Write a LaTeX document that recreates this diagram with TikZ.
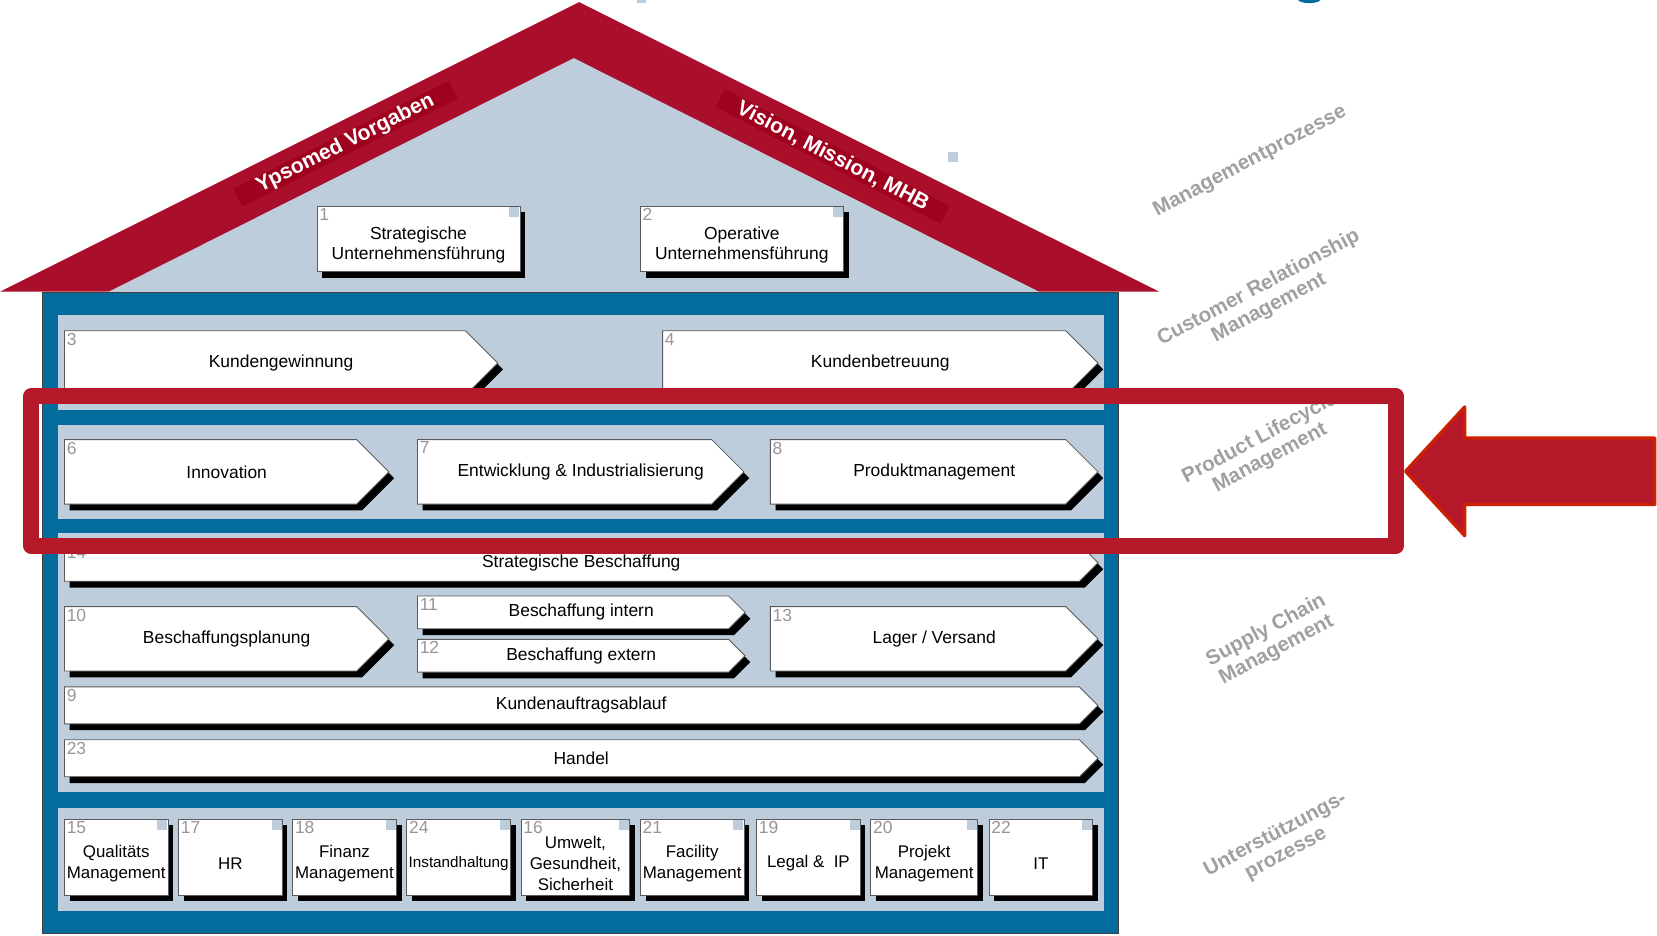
\documentclass[tikz,border=0pt]{standalone}
\usepackage{fontspec}
\setmainfont{Liberation Sans}
\definecolor{roofred}{RGB}{169,14,43}
\definecolor{bandred}{RGB}{158,2,30}
\definecolor{lightblue}{RGB}{189,205,219}
\definecolor{darkblue}{RGB}{4,108,157}
\definecolor{hired}{RGB}{181,25,41}
\definecolor{arrowedge}{RGB}{204,32,0}
\definecolor{sidegray}{RGB}{160,160,160}
\definecolor{numgray}{RGB}{150,150,150}
\definecolor{boxedge}{RGB}{90,90,90}
\tikzset{
  boxtext/.style={font=\fontsize{16.5}{19.5}\selectfont, text=black, align=center, inner sep=0},
  suptext/.style={font=\fontsize{16}{19.5}\selectfont, text=black, align=center, inner sep=0},
  smalltext/.style={font=\fontsize{14.4}{17}\selectfont, text=black, align=center, inner sep=0},
  numtext/.style={font=\fontsize{16.5}{17}\selectfont, text=numgray, inner sep=2, anchor=north west},
  rooftext/.style={font=\bfseries\fontsize{20}{21}\selectfont, text=white, fill=bandred, inner sep=0, minimum height=19},
  sidelabel/.style={font=\bfseries\fontsize{19.5}{21}\selectfont, text=sidegray, align=center, inner sep=0, rotate=28},
  shadowfill/.style={fill=black},
  boxfill/.style={fill=white, draw=boxedge, line width=0.8},
  cornersq/.style={fill=lightblue},
  panel/.style={fill=lightblue},
}
% name, x1, y1, xtip, y2, number, text
\newcommand\chevbox[7]{%
  \fill[shadowfill, shift={(5,6)}] (#2,#3) -- ({#4-(#5-#3)/2},#3) -- (#4,{(#3+#5)/2}) -- ({#4-(#5-#3)/2},#5) -- (#2,#5) -- cycle;
  \draw[boxfill] (#2,#3) -- ({#4-(#5-#3)/2},#3) -- (#4,{(#3+#5)/2}) -- ({#4-(#5-#3)/2},#5) -- (#2,#5) -- cycle;
  \node[numtext] (#1n) at (#2,#3) {#6};
  \node[boxtext] (#1) at ({(#2+#4)/2},{(#3+#5)/2}) {#7};
}
% name, x1, y1, x2, y2, number, text style, text
\newcommand\supbox[8]{%
  \fill[shadowfill, shift={(5,6)}] (#2,#3) rectangle (#4,#5);
  \draw[boxfill] (#2,#3) rectangle (#4,#5);
  \fill[cornersq] ({#4-10},{#3+0.5}) rectangle ({#4-0.5},{#3+10});
  \node[numtext] (#1n) at (#2,#3) {#6};
  \node[#7] (#1) at ({(#2+#4)/2},{(#3+#5)/2+6}) {#8};
}
\begin{document}
\begin{tikzpicture}[x=1pt,y=-1pt]
\useasboundingbox (0,0) rectangle (1568,885);
% cut fragments at top edge
\fill[lightblue] (603,-2) rectangle (611,2.5);
\fill[darkblue] (1239,-1) ellipse (11 and 4);
% roof
\fill[roofred] (0,276) -- (548,2) -- (1097,276) -- cycle;
\fill[lightblue] (101,277) -- (543,55) -- (985,277) -- cycle;
\node[rooftext, rotate=26.6, minimum width=228] (ypso) at (327,136) {Ypsomed Vorgaben};
\node[rooftext, rotate=-27.5, minimum width=240] (vision) at (788,148) {Vision, Mission, MHB};
\fill[lightblue] (897,144) rectangle (907,153);
% management boxes
\supbox{b1}{300}{195}{492}{257}{1}{boxtext}{Strategische\\Unternehmensführung}
\supbox{b2}{606}{195}{798}{257}{2}{boxtext}{Operative\\Unternehmensführung}
% body
\draw[fill=darkblue, draw=black!75, line width=1] (40,277) rectangle (1058,883);
\fill[panel] (55,298) rectangle (1045,388);
\fill[panel] (55,402) rectangle (1045,491);
\fill[panel] (55,504) rectangle (1045,749);
\fill[panel] (55,765) rectangle (1045,862);
% CRM
\chevbox{b3}{61}{313}{471}{374}{3}{Kundengewinnung}
\chevbox{b4}{627}{313}{1039}{374}{4}{Kundenbetreuung}
% PLM
\chevbox{b6}{61}{416}{368}{477}{6}{Innovation}
\chevbox{b7}{395}{416}{704}{477}{7}{Entwicklung \& Industrialisierung}
\chevbox{b8}{729}{416}{1039}{477}{8}{Produktmanagement}
% SCM
\chevbox{b14}{61}{515}{1039}{550}{14}{Strategische Beschaffung}
\chevbox{b10}{61}{574}{368}{635}{10}{Beschaffungsplanung}
\chevbox{b11}{395}{564}{705}{595}{11}{Beschaffung intern}
\chevbox{b12}{395}{605}{705}{636}{12}{Beschaffung extern}
\chevbox{b13}{729}{574}{1039}{635}{13}{Lager / Versand}
\chevbox{b9}{61}{650}{1039}{685}{9}{Kundenauftragsablauf}
\chevbox{b23}{61}{700}{1039}{735}{23}{Handel}
% support
\supbox{b15}{61}{775}{159}{847}{15}{suptext}{Qualitäts\\Management}
\supbox{b17}{169}{775}{267}{847}{17}{suptext}{HR}
\supbox{b18}{277}{775}{375}{847}{18}{suptext}{Finanz\\Management}
\supbox{b24}{385}{775}{483}{847}{24}{smalltext}{Instandhaltung}
\supbox{b16}{493}{775}{596}{847}{16}{suptext}{Umwelt,\\Gesundheit,\\Sicherheit}
\supbox{b21}{606}{775}{704}{847}{21}{suptext}{Facility\\Management}
\supbox{b19}{716}{775}{814}{847}{19}{suptext}{Legal \&~ IP}
\supbox{b20}{824}{775}{925}{847}{20}{suptext}{Projekt\\Management}
\supbox{b22}{936}{775}{1034}{847}{22}{suptext}{IT}
% side labels
\node[sidelabel] (lmgmt) at (1183,153) {Managementprozesse};
\node[sidelabel] (lcrm) at (1196,282) {Customer Relationship\\Management};
\node[sidelabel] (lplm) at (1197,424) {Product Lifecycle\\Management};
\node[sidelabel] (lscm) at (1203,606) {Supply Chain\\Management};
\node[sidelabel] (lsup) at (1212,799) {Unterstützungs-\\prozesse};
% highlight
\draw[hired, line width=15, line join=round] (29.5,375) rectangle (1321,516.5);
\draw[fill=hired, draw=arrowedge, line width=3, line join=round] (1330,446) -- (1386,385) -- (1386,414.5) -- (1566,414.5) -- (1566,477.5) -- (1386,477.5) -- (1386,507) -- cycle;
\end{tikzpicture}
\end{document}
